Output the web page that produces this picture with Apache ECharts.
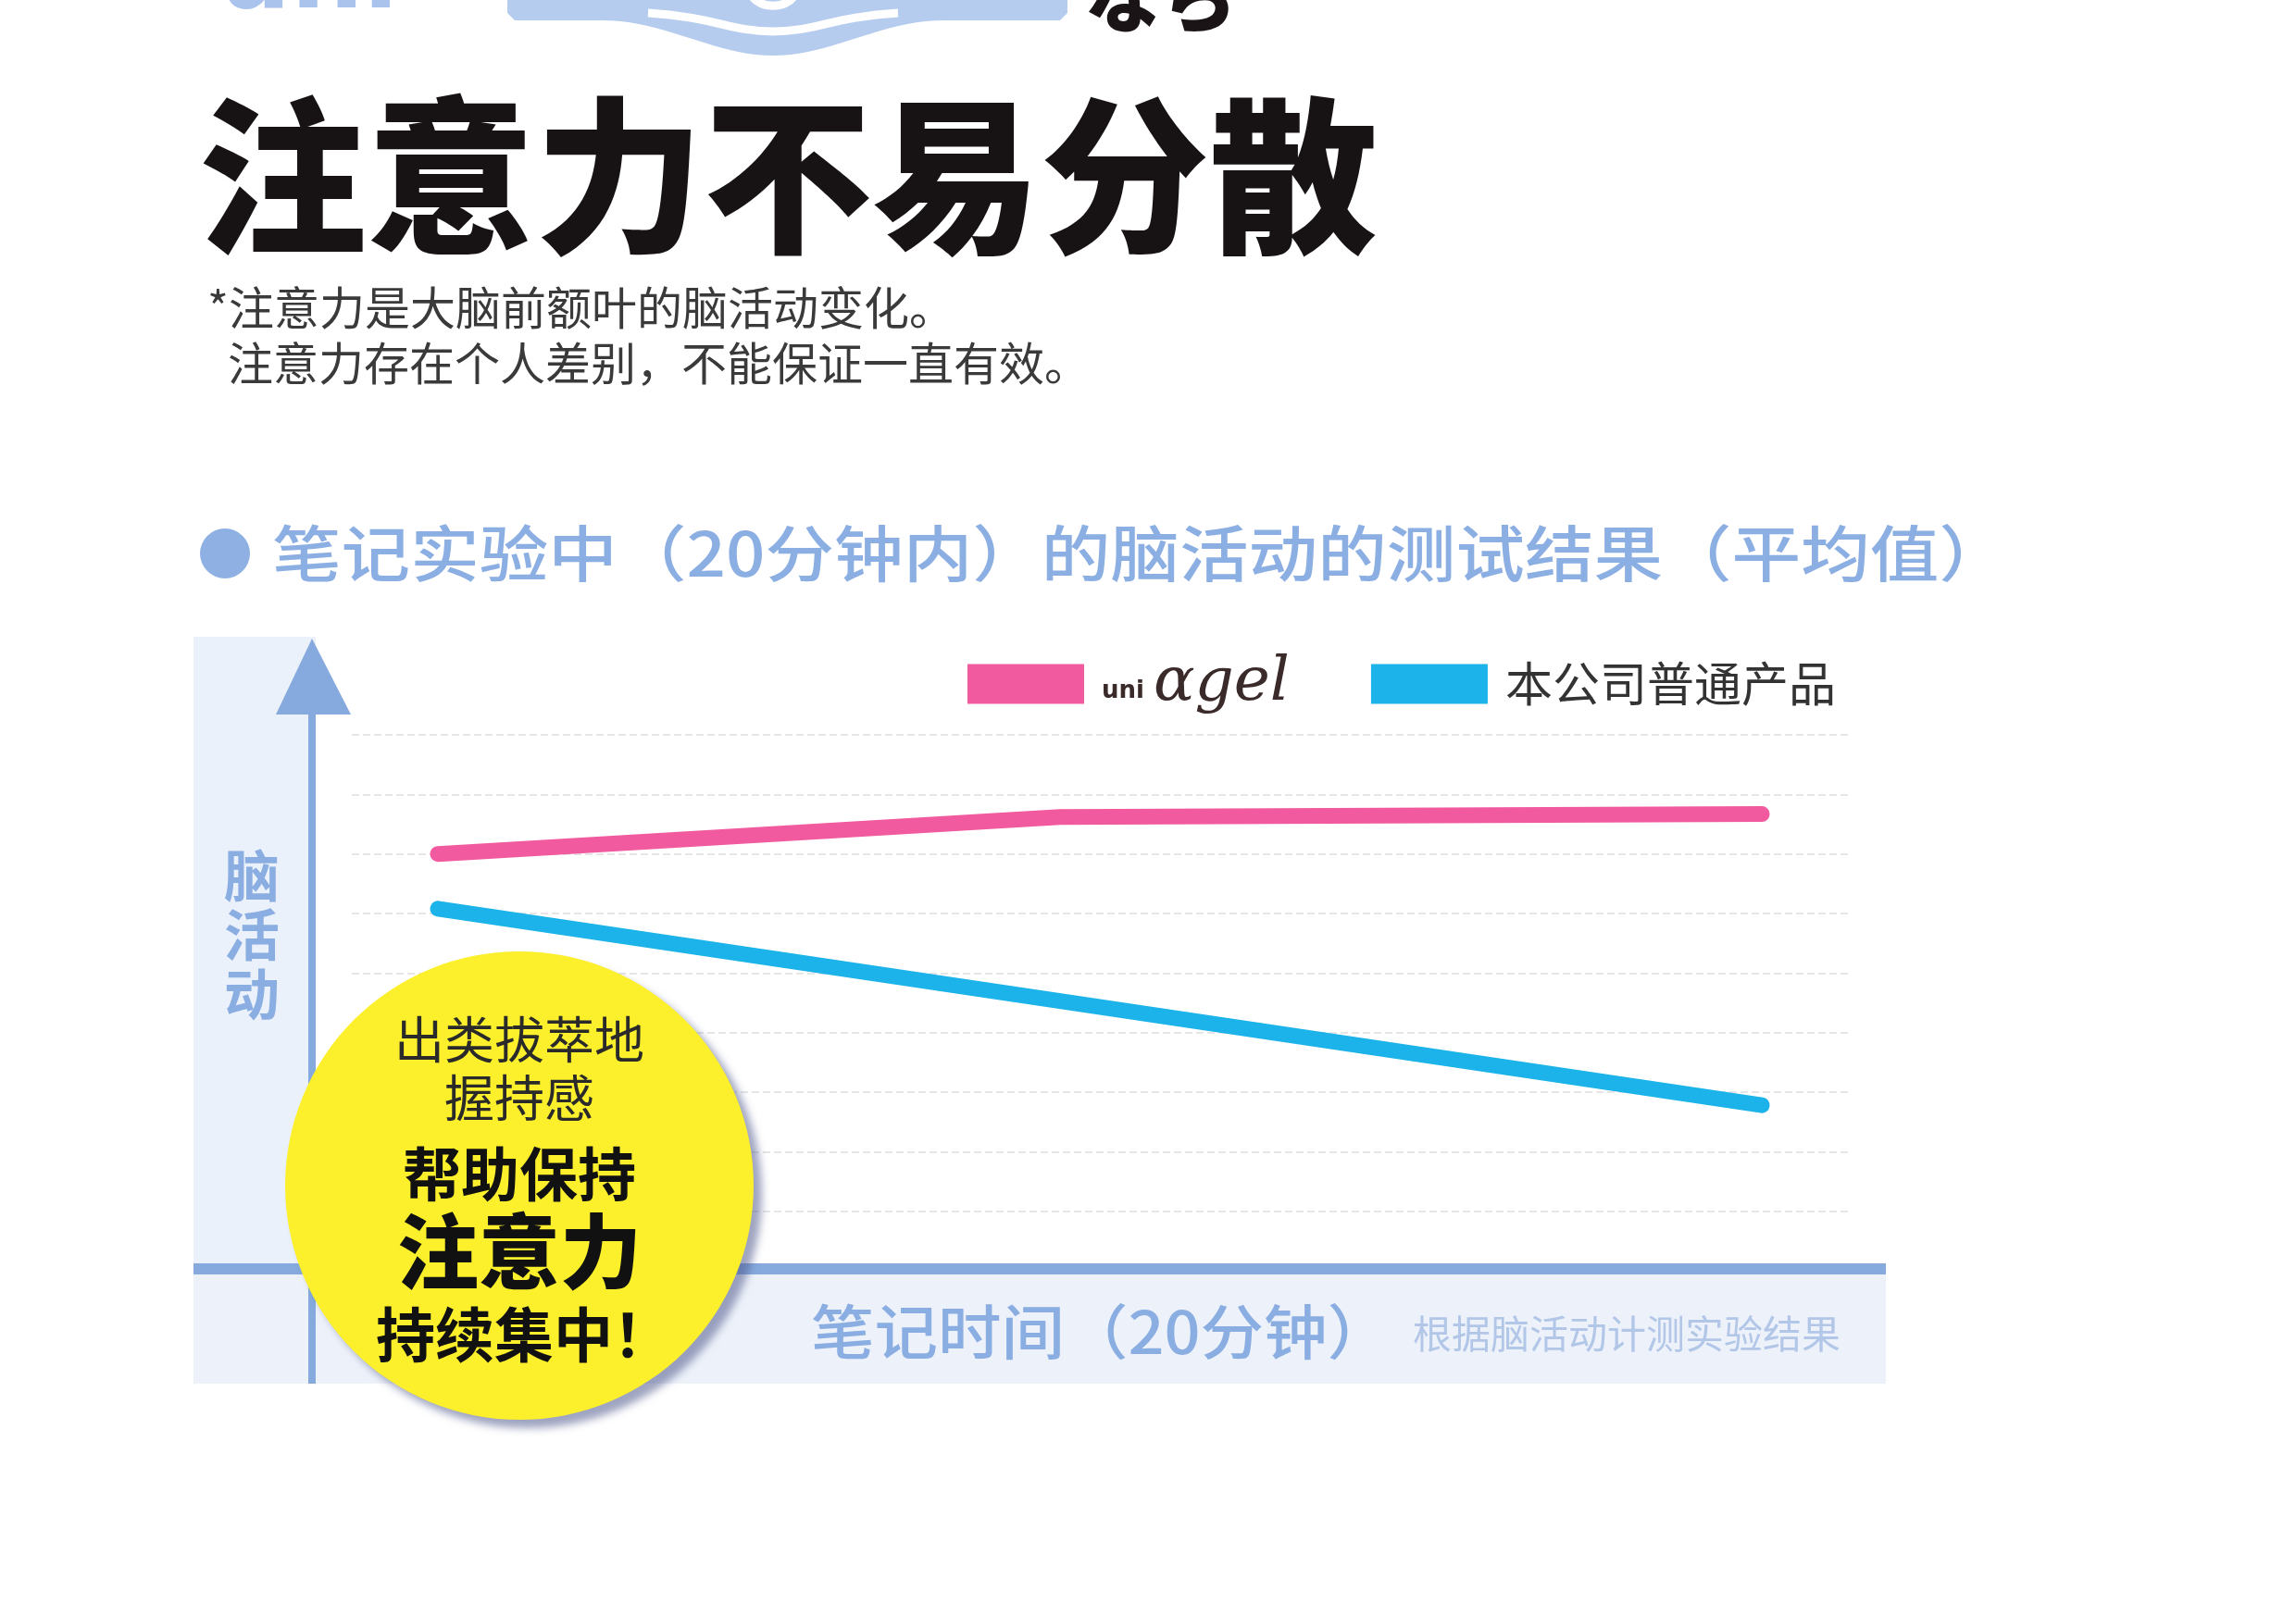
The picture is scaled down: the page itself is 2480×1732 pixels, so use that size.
<!DOCTYPE html>
<html>
<head>
<meta charset="utf-8">
<script src="https://cdn.jsdelivr.net/npm/echarts@6/dist/echarts.min.js"></script>
<style>
html,body{margin:0;padding:0;background:#ffffff;}
#chart{width:2480px;height:1732px;}
</style>
</head>
<body>
<div id="chart"></div>
<script>
// ---- data ----
var seriesNames = ['uni α-gel', '本公司普通产品'];
var timeAlphaGel = [0, 9.4, 20];
var valuesAlphaGel = [7.0, 7.62, 7.67];
var timeNormal = [0, 20];
var valuesNormal = [6.08, 2.78];
var titleText = '注意力不易分散';
var noteLines = ['*注意力是大脑前额叶的脑活动变化。', '注意力存在个人差别，不能保证一直有效。'];
var sectionTitle = '笔记实验中（20分钟内）的脑活动的测试结果（平均值）';
var yAxisName = '脑活动';
var xAxisName = '笔记时间（20分钟）';
var sourceNote = '根据脑活动计测实验结果';
var badgeLines = ['出类拔萃地', '握持感', '帮助保持', '注意力', '持续集中！'];

function pairs(xs, ys){ return xs.map(function(x,i){ return [x, ys[i]]; }); }

// decorative logo outline (sampled cubic curves)
function cubic(p0, p1, p2, p3, n){
  var out = [];
  for (var i = 0; i <= n; i++) {
    var t = i / n, u = 1 - t;
    out.push([
      u*u*u*p0[0] + 3*u*u*t*p1[0] + 3*u*t*t*p2[0] + t*t*t*p3[0],
      u*u*u*p0[1] + 3*u*u*t*p1[1] + 3*u*t*t*p2[1] + t*t*t*p3[1]
    ]);
  }
  return out;
}
var logoPts = [[548,-10],[1153,-10],[1153,14],[1145,22],[1020,22]]
  .concat(cubic([1020,22],[950,22],[900,60],[835,60],20))
  .concat(cubic([835,60],[770,60],[720,22],[650,22],20))
  .concat([[556,22],[548,14]]);

var FONT = '"Noto Sans CJK SC", "Noto Sans", sans-serif';
var chart = echarts.init(document.getElementById('chart'));
var axisBlue = '#86aade';

var option = {
  backgroundColor: '#ffffff',
  textStyle: { fontFamily: FONT },
  grid: { left: 380, right: 484, top: 794, bottom: 359 },
  legend: {
    left: 1040, top: 701,
    itemWidth: 126, itemHeight: 43, itemGap: 88,
    icon: 'rect',
    data: seriesNames,
    formatter: function(name){
      if (name === seriesNames[0]) return '{u|uni}{a|αgel}';
      return name;
    },
    textStyle: {
      fontFamily: FONT, fontSize: 51, color: '#333333', padding: [0,0,0,14],
      rich: {
        u: { fontFamily: 'DejaVu Sans', fontSize: 26, fontWeight: 'bold', color: '#3a2a2a', padding: [16,10,0,0] },
        a: { fontFamily: 'DejaVu Serif', fontSize: 66, fontStyle: 'italic', color: '#3a2a2a' }
      }
    }
  },
  xAxis: {
    type: 'value', min: -1.3, max: 21.3,
    axisLine: { show: false }, axisTick: { show: false }, axisLabel: { show: false },
    splitLine: { show: false }
  },
  yAxis: {
    type: 'value', min: 0, max: 9, interval: 1,
    axisLine: { show: false }, axisTick: { show: false }, axisLabel: { show: false },
    splitLine: { show: true, lineStyle: { color: '#e6e6e6', width: 2, type: [8, 4] } }
  },
  series: [
    {
      name: seriesNames[0], type: 'line', data: pairs(timeAlphaGel, valuesAlphaGel),
      showSymbol: false, symbol: 'none', smooth: false, z: 5,
      itemStyle: { color: '#f25a9f' },
      lineStyle: { color: '#f25a9f', width: 17, cap: 'round', join: 'round' }
    },
    {
      name: seriesNames[1], type: 'line', data: pairs(timeNormal, valuesNormal),
      showSymbol: false, symbol: 'none', z: 5,
      itemStyle: { color: '#1cb3ea' },
      lineStyle: { color: '#1cb3ea', width: 17, cap: 'round' }
    }
  ],
  graphic: [
    // top logo (partial)
    { type: 'text', x: 236, y: 34, z: 1, style: { text: 'uni', font: '900 110px "DejaVu Sans"', fill: '#a9c3ec', verticalAlign: 'bottom' } },
    { type: 'polygon', z: 1, shape: { points: logoPts }, style: { fill: '#b6ccee' } },
    { type: 'bezierCurve', z: 2, shape: { x1: 700, y1: 14, cpx1: 770, cpy1: 18, cpx2: 790, cpy2: 34, x2: 835, y2: 34 }, style: { fill: null, stroke: '#ffffff', lineWidth: 9 } },
    { type: 'bezierCurve', z: 2, shape: { x1: 835, y1: 34, cpx1: 880, cpy1: 34, cpx2: 900, cpy2: 18, x2: 970, y2: 14 }, style: { fill: null, stroke: '#ffffff', lineWidth: 9 } },
    { type: 'bezierCurve', z: 2, shape: { x1: 812, y1: -5, cpx1: 820, cpy1: 10, cpx2: 850, cpy2: 10, x2: 858, y2: -5 }, style: { fill: null, stroke: '#ffffff', lineWidth: 9 } },
    { type: 'text', x: 1172, y: 38, z: 1, style: { text: 'なら', font: '900 82px "Noto Sans CJK JP"', fill: '#1a1416', verticalAlign: 'bottom' } },
    // title
    { type: 'text', x: 214, y: 190, z: 1, style: { text: titleText, font: '900 182px "Noto Sans CJK SC"', fill: '#171214', verticalAlign: 'middle' } },
    { type: 'text', x: 224, y: 332, z: 1, style: { text: noteLines[0], font: '400 49px "Noto Sans CJK SC"', fill: '#3a3a3a', verticalAlign: 'middle' } },
    { type: 'text', x: 246, y: 392, z: 1, style: { text: noteLines[1], font: '400 49px "Noto Sans CJK SC"', fill: '#3a3a3a', verticalAlign: 'middle' } },
    // section title
    { type: 'circle', z: 1, shape: { cx: 243, cy: 598, r: 27 }, style: { fill: '#8eb0e3' } },
    { type: 'text', x: 294, y: 598, scaleX: 1.13, z: 1, style: { text: sectionTitle, font: '500 66px "Noto Sans CJK SC"', fill: '#8cafe3', verticalAlign: 'middle' } },
    // panel backgrounds
    { type: 'rect', z: -10, shape: { x: 209, y: 688, width: 132, height: 807 }, style: { fill: '#ebf1fa' } },
    { type: 'rect', z: -10, shape: { x: 209, y: 1376, width: 1828, height: 119 }, style: { fill: '#edf2fa' } },
    // x axis bar
    { type: 'rect', z: 3, shape: { x: 209, y: 1365, width: 1828, height: 12 }, style: { fill: axisBlue } },
    // y axis arrow
    { type: 'rect', z: 3, shape: { x: 333, y: 760, width: 8, height: 735 }, style: { fill: axisBlue } },
    { type: 'polygon', z: 3, shape: { points: [[337, 690], [298, 772], [379, 772]] }, style: { fill: axisBlue } },
    // y axis name
    { type: 'text', z: 3, x: 272, y: 1010, style: { text: yAxisName.split('').join('\n'), font: '700 60px "Noto Sans CJK SC"', lineHeight: 64, fill: '#8aade2', align: 'center', verticalAlign: 'middle' } },
    // x axis name
    { type: 'text', z: 3, x: 876, y: 1439, scaleX: 1.07, style: { text: xAxisName, font: '500 64px "Noto Sans CJK SC"', fill: '#8aade2', verticalAlign: 'middle' } },
    { type: 'text', z: 3, x: 1526, y: 1441, style: { text: sourceNote, font: '400 42px "Noto Sans CJK SC"', fill: '#b2c6e8', verticalAlign: 'middle' } },
    // badge
    { type: 'circle', z: 20, shape: { cx: 561, cy: 1281, r: 253 }, style: { fill: '#fcf02c', shadowColor: 'rgba(80,90,140,0.55)', shadowBlur: 8, shadowOffsetX: 9, shadowOffsetY: 9 } },
    { type: 'text', z: 21, x: 561, y: 1123, style: { text: badgeLines[0], font: '400 54px "Noto Sans CJK SC"', fill: '#2a2a2a', align: 'center', verticalAlign: 'middle' } },
    { type: 'text', z: 21, x: 561, y: 1186, style: { text: badgeLines[1], font: '400 54px "Noto Sans CJK SC"', fill: '#2a2a2a', align: 'center', verticalAlign: 'middle' } },
    { type: 'text', z: 21, x: 561, y: 1268, style: { text: badgeLines[2], font: '700 63px "Noto Sans CJK SC"', fill: '#111111', align: 'center', verticalAlign: 'middle' } },
    { type: 'text', z: 21, x: 561, y: 1352, style: { text: badgeLines[3], font: '900 88px "Noto Sans CJK SC"', fill: '#111111', align: 'center', verticalAlign: 'middle' } },
    { type: 'text', z: 21, x: 566, y: 1442, style: { text: badgeLines[4], font: '700 64px "Noto Sans CJK SC"', fill: '#111111', align: 'center', verticalAlign: 'middle' } }
  ]
};
chart.setOption(option);
</script>
</body>
</html>
